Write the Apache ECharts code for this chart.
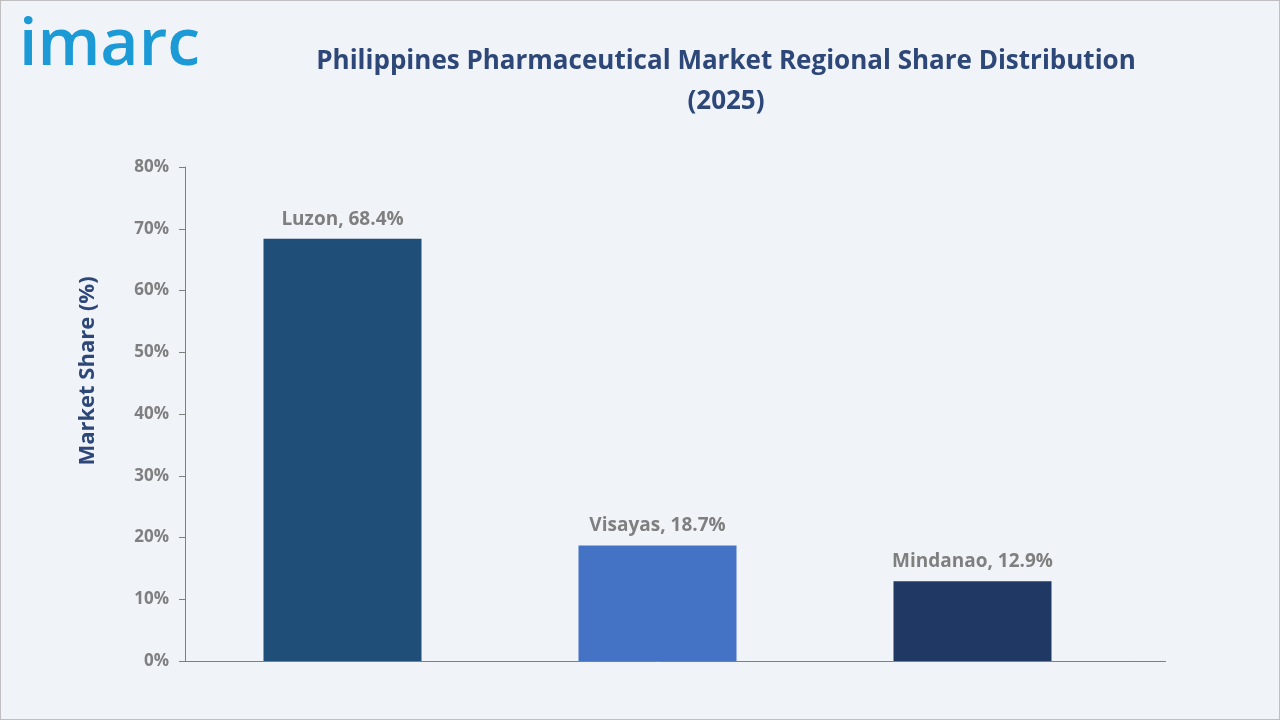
<!DOCTYPE html>
<html><head><meta charset="utf-8">
<script src="https://cdn.jsdelivr.net/npm/echarts@6/dist/echarts.min.js"></script>
<style>html,body{margin:0;padding:0;background:#f0f3f8}#c{width:1280px;height:720px;box-sizing:border-box;border:1px solid #bfbfbf}</style>
</head><body><div id="c"></div>
<script>
const categories = ['Luzon', 'Visayas', 'Mindanao'];
const values = [68.4, 18.7, 12.9];
const colors = ['#1f4e79', '#4472c4', '#203864'];
const yAxisTitle = 'Market Share (%)';
const chart = echarts.init(document.getElementById('c'));
chart.setOption({
  backgroundColor: '#f0f3f8',
  title: {
    text: 'Philippines Pharmaceutical Market Regional Share Distribution\n(2025)',
    left: 720, top: 36, textAlign: 'center',
    textStyle: {color: '#2c4778', fontSize: 26, fontWeight: 'bold', fontFamily: 'Open Sans', lineHeight: 40}
  },
  graphic: [
    {type: 'text', left: 18, top: 12, style: {text: 'imarc', fill: '#1b9ad6', font: '600 66px "Open Sans"'}},
    {type: 'text', x: 76, y: 370, rotation: Math.PI / 2,
      style: {text: yAxisTitle, fill: '#2c4778', font: 'bold 22px "Open Sans"', align: 'center', verticalAlign: 'top'}},
    {type: 'line', shape: {x1: 1129, y1: 660.5, x2: 1165, y2: 660.5}, style: {stroke: '#7f7f7f', lineWidth: 1}}
  ],
  grid: {left: 184, top: 166, width: 945, height: 494},
  xAxis: {
    type: 'category', data: categories,
    axisLine: {lineStyle: {color: '#7f7f7f'}}, axisTick: {show: false}, axisLabel: {show: false}
  },
  yAxis: {
    type: 'value', min: 0, max: 80, interval: 10,
    axisLine: {show: true, lineStyle: {color: '#7f7f7f'}},
    axisTick: {show: true, length: 6, lineStyle: {color: '#7f7f7f'}},
    splitLine: {show: false},
    axisLabel: {formatter: '{value}%', color: '#7f7f7f', fontSize: 17, fontWeight: 'bold', fontFamily: 'Open Sans', margin: 16}
  },
  series: [{
    type: 'bar', barWidth: 158,
    data: values.map((v, i) => ({value: v, itemStyle: {color: colors[i]}})),
    label: {show: true, position: 'top', distance: 10, color: '#7f7f7f', fontSize: 19, fontWeight: 'bold', fontFamily: 'Open Sans',
      formatter: p => p.name + ', ' + p.value + '%'}
  }]
});
</script></body></html>
